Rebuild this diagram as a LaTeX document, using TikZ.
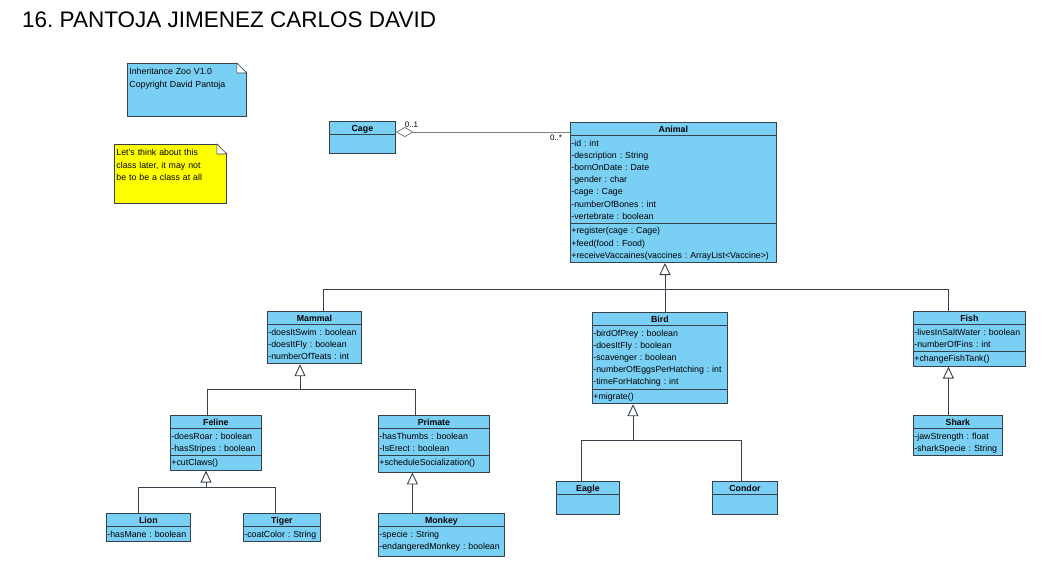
\documentclass[tikz,border=0pt]{standalone}
\usepackage{fontspec}
\setmainfont{Liberation Sans}
\usetikzlibrary{positioning,arrows.meta,shapes.multipart}

\definecolor{umlblue}{RGB}{122,207,245}
\definecolor{umlline}{RGB}{55,65,75}
\definecolor{notegold}{RGB}{255,255,0}

\frenchspacing
\newcommand{\ls}{\rule[-3.2pt]{0pt}{12.2pt}}
\newcommand{\umlnl}{\\\ls}
\newcommand{\umlhead}[1]{\makebox[\hsize][c]{\rule[-2.6pt]{0pt}{11pt}\textbf{#1}}}

\begin{document}
\begin{tikzpicture}[
    x=1pt, y=-1pt,
    font=\fontsize{8.8}{12.2}\selectfont,
    umlclass/.style={draw=umlline, fill=umlblue, line width=0.8pt,
                     rectangle split, rectangle split parts=#1,
                     anchor=north west, align=left,
                     inner xsep=1pt, inner ysep=0.8pt},
    umlclass/.default=3,
    note/.style={draw=umlline, line width=0.8pt, anchor=north west,
                 align=left, inner xsep=2pt, inner ysep=2.5pt},
    notefold/.style={draw=umlline, fill=white, line width=0.6pt},
    gen/.style={-{Triangle[open, length=12pt, width=11pt, fill=white]},
                draw=umlline, line width=0.9pt},
    link/.style={draw=umlline, line width=0.9pt},
    assoc/.style={{Diamond[open, length=18pt, width=10pt, fill=white]}-,
                  draw=gray, line width=0.8pt},
    mult/.style={font=\fontsize{8}{9}\selectfont, inner sep=0.5pt},
]
\useasboundingbox (0,0) rectangle (1043,586);

% === Title ===
\node[font=\fontsize{22.5}{27}\selectfont, anchor=base west, inner sep=0pt]
     (title) at (22,28) {16. PANTOJA JIMENEZ CARLOS DAVID};

% === Notes ===
\node[note, fill=umlblue, text width=115pt, text depth=39pt] (versionnote) at (127,63)
     {\ls Inheritance Zoo V1.0\umlnl Copyright David Pantoja};
\node[note, fill=notegold, text width=108pt, text depth=45pt] (thinknote) at (114,144)
     {\ls Let's think about this\umlnl class later, it may not\umlnl be to be a class at all};

\foreach \n in {versionnote, thinknote} {
  \fill[white] ([xshift=-10pt, yshift=1pt]\n.north east) -- ([xshift=1pt, yshift=1pt]\n.north east)
               -- ([xshift=1pt, yshift=-10pt]\n.north east) -- cycle;
  \draw[notefold] ([xshift=-10pt]\n.north east) |- ([yshift=-10pt]\n.north east) -- cycle;
}

% === Top: Cage and Animal ===
\node[umlclass=2, text width=64pt] (cage) at (329,121)
     {\umlhead{Cage}\nodepart{two}\rule{0pt}{16.6pt}};
\node[umlclass, text width=204pt] (animal) at (570,122)
     {\umlhead{Animal}
      \nodepart{two}\ls -id : int\umlnl -description : String\umlnl -bornOnDate : Date\umlnl
      -gender : char\umlnl -cage : Cage\umlnl -numberOfBones : int\umlnl -vertebrate : boolean
      \nodepart{three}\ls +register(cage : Cage)\umlnl +feed(food : Food)\umlnl
      +receiveVaccaines(vaccines : ArrayList<Vaccine>)};

% === Middle row: Mammal, Bird, Fish ===
\node[umlclass=2, text width=92pt] (mammal) at (267,311)
     {\umlhead{Mammal}
      \nodepart{two}\ls -doesItSwim : boolean\umlnl -doesItFly : boolean\umlnl -numberOfTeats : int};
\node[umlclass, text width=133pt] (bird) at (592,312)
     {\umlhead{Bird}
      \nodepart{two}\ls -birdOfPrey : boolean\umlnl -doesItFly : boolean\umlnl -scavenger : boolean\umlnl
      -numberOfEggsPerHatching : int\umlnl -timeForHatching : int
      \nodepart{three}\ls +migrate()};
\node[umlclass, text width=110pt] (fish) at (913,311)
     {\umlhead{Fish}
      \nodepart{two}\ls -livesInSaltWater : boolean\umlnl -numberOfFins : int
      \nodepart{three}\ls +changeFishTank()};

% === Lower rows ===
\node[umlclass, text width=89pt] (feline) at (170,415)
     {\umlhead{Feline}
      \nodepart{two}\ls -doesRoar : boolean\umlnl -hasStripes : boolean
      \nodepart{three}\ls +cutClaws()};
\node[umlclass, text width=109pt] (primate) at (378,415)
     {\umlhead{Primate}
      \nodepart{two}\ls -hasThumbs : boolean\umlnl -IsErect : boolean
      \nodepart{three}\rule[-5pt]{0pt}{14pt}+scheduleSocialization()};
\node[umlclass=2, text width=82pt] (lion) at (106,513)
     {\umlhead{Lion}\nodepart{two}\ls -hasMane : boolean};
\node[umlclass=2, text width=75pt] (tiger) at (243,513)
     {\umlhead{Tiger}\nodepart{two}\ls -coatColor : String};
\node[umlclass=2, text width=124pt] (monkey) at (378,513)
     {\umlhead{Monkey}\nodepart{two}\ls -specie : String\umlnl\rule[-6pt]{0pt}{1pt}-endangeredMonkey : boolean};
\node[umlclass=2, text width=61pt] (eagle) at (556,481)
     {\umlhead{Eagle}\nodepart{two}\rule{0pt}{17.4pt}};
\node[umlclass=2, text width=63pt] (condor) at (712,481)
     {\umlhead{Condor}\nodepart{two}\rule{0pt}{17.4pt}};
\node[umlclass=2, text width=87pt] (shark) at (913,415)
     {\umlhead{Shark}\nodepart{two}\ls -jawStrength : float\umlnl -sharkSpecie : String};

% === Association ===
\coordinate (cagelink) at ([yshift=5.5pt]cage.east);
\draw[assoc] (cagelink) -- (cagelink -| animal.west)
     node[mult, pos=0.09, above=4pt] {0..1}
     node[mult, pos=0.92, below=2pt] {0..*};

% === Generalizations ===
\coordinate (animalbus) at (665,289);
\coordinate (mammalbus) at (300,389);
\coordinate (felinebus) at (206,487);
\coordinate (birdbus) at (633,440);

\draw[gen] (animalbus) -- (animalbus |- animal.south);
\draw[link] ([xshift=9pt]mammal.north) |- (animalbus);
\draw[link] (bird.north -| animalbus) -- (animalbus);
\draw[link] ([xshift=-21pt]fish.north) |- (animalbus);

\draw[gen] (mammalbus) -- (mammalbus |- mammal.south);
\draw[link] ([xshift=-8.5pt]feline.north) |- (mammalbus);
\draw[link] ([xshift=-18.5pt]primate.north) |- (mammalbus);

\draw[gen] (felinebus) -- (felinebus |- feline.south);
\draw[link] ([xshift=-10pt]lion.north) |- (felinebus);
\draw[link] ([xshift=-6.5pt]tiger.north) |- (felinebus);

\draw[gen] ([xshift=-29pt]monkey.north) -- ([xshift=-21.5pt]primate.south);

\draw[gen] (birdbus) -- (birdbus |- bird.south);
\draw[link] ([xshift=-6.5pt]eagle.north) |- (birdbus);
\draw[link] ([xshift=-3.5pt]condor.north) |- (birdbus);

\draw[gen] ([xshift=-9.5pt]shark.north) -- ([xshift=-21pt]fish.south);

\end{tikzpicture}
\end{document}
